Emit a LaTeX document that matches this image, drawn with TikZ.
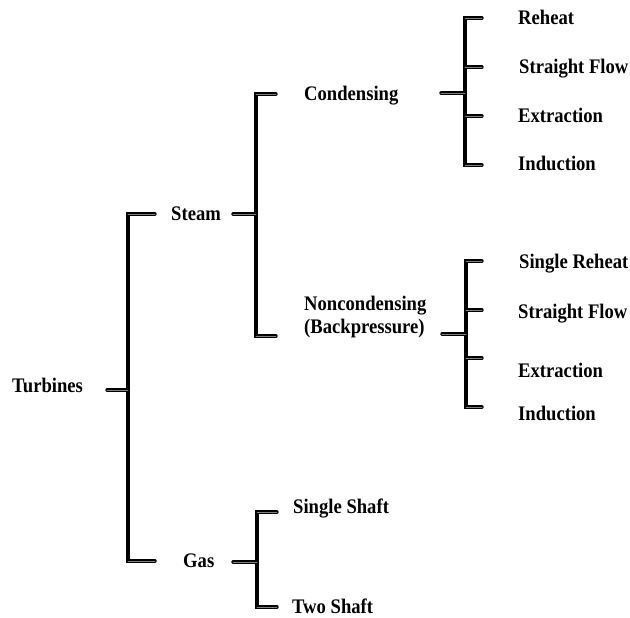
\documentclass[tikz,border=0pt]{standalone}
\usepackage{fontspec}
\newfontfamily\lblfont{Liberation Serif}[FakeStretch=0.9]
\begin{document}
\begin{tikzpicture}[x=1pt,y=-1pt,
  lbl/.style={anchor=base west, inner sep=0pt, align=left,
    font=\lblfont\bfseries\fontsize{20.7}{23}\selectfont},
  bar/.style={line width=3.8pt, line cap=rect},
  stub/.style={line width=1.3pt, double=black!50, double distance=0.8pt, line cap=round}]
\useasboundingbox (0,0) rectangle (630,618);

% ---- labels ----
\node[lbl] (turb) at (12,392) {Turbines};
\node[lbl] (steam) at (171,220) {Steam};
\node[lbl] (gas) at (183,567) {Gas};
\node[lbl] (cond) at (304,100) {Condensing};
\node[lbl] (noncond) at (304,333) {Noncondensing\\(Backpressure)};
\node[lbl] (c1) at (518,25) {Reheat};
\node[lbl] (c2) at (519,74) {Straight Flow};
\node[lbl] (c3) at (518,122) {Extraction};
\node[lbl] (c4) at (518,170) {Induction};
\node[lbl] (n1) at (519,268) {Single Reheat};
\node[lbl] (n2) at (518,318) {Straight Flow};
\node[lbl] (n3) at (518,377) {Extraction};
\node[lbl] (n4) at (518,420) {Induction};
\node[lbl] (g1) at (293,513) {Single Shaft};
\node[lbl] (g2) at (292,613) {Two Shaft};

% ---- Turbines bracket ----
\coordinate (tP) at (107,390); \coordinate (tJ) at (128,390);
\coordinate (tA) at (128,214); \coordinate (tB) at (128,561);
\coordinate (tAe) at (155,214); \coordinate (tBe) at (155,561);
\draw[bar] (tA) -- (tB);
\draw[stub] (tP) -- (tJ);
\draw[stub] (tA) -- (tAe);
\draw[stub] (tB) -- (tBe);

% ---- Steam bracket ----
\coordinate (sP) at (233,214); \coordinate (sJ) at (256,214);
\coordinate (sA) at (256,94); \coordinate (sB) at (256,336);
\coordinate (sAe) at (276,94); \coordinate (sBe) at (276,336);
\draw[bar] (sA) -- (sB);
\draw[stub] (sP) -- (sJ);
\draw[stub] (sA) -- (sAe);
\draw[stub] (sB) -- (sBe);

% ---- Gas bracket ----
\coordinate (gP) at (233,562); \coordinate (gJ) at (257,562);
\coordinate (gA) at (257,512); \coordinate (gB) at (257,607);
\coordinate (gAe) at (277,512); \coordinate (gBe) at (277,607);
\draw[bar] (gA) -- (gB);
\draw[stub] (gP) -- (gJ);
\draw[stub] (gA) -- (gAe);
\draw[stub] (gB) -- (gBe);

% ---- Condensing bracket ----
\coordinate (cP) at (441,93); \coordinate (cJ) at (465,93);
\coordinate (cA) at (465,18); \coordinate (cB) at (465,67);
\coordinate (cC) at (465,116); \coordinate (cD) at (465,165);
\coordinate (cAe) at (482,18); \coordinate (cBe) at (482,67);
\coordinate (cCe) at (482,116); \coordinate (cDe) at (482,165);
\draw[bar] (cA) -- (cD);
\draw[stub] (cP) -- (cJ);
\draw[stub] (cA) -- (cAe);
\draw[stub] (cB) -- (cBe);
\draw[stub] (cC) -- (cCe);
\draw[stub] (cD) -- (cDe);

% ---- Noncondensing bracket ----
\coordinate (nP) at (442,334); \coordinate (nJ) at (466,334);
\coordinate (nA) at (466,261); \coordinate (nB) at (466,310);
\coordinate (nC) at (466,358); \coordinate (nD) at (466,407);
\coordinate (nAe) at (482,261); \coordinate (nBe) at (482,310);
\coordinate (nCe) at (482,358); \coordinate (nDe) at (482,407);
\draw[bar] (nA) -- (nD);
\draw[stub] (nP) -- (nJ);
\draw[stub] (nA) -- (nAe);
\draw[stub] (nB) -- (nBe);
\draw[stub] (nC) -- (nCe);
\draw[stub] (nD) -- (nDe);
\end{tikzpicture}
\end{document}
